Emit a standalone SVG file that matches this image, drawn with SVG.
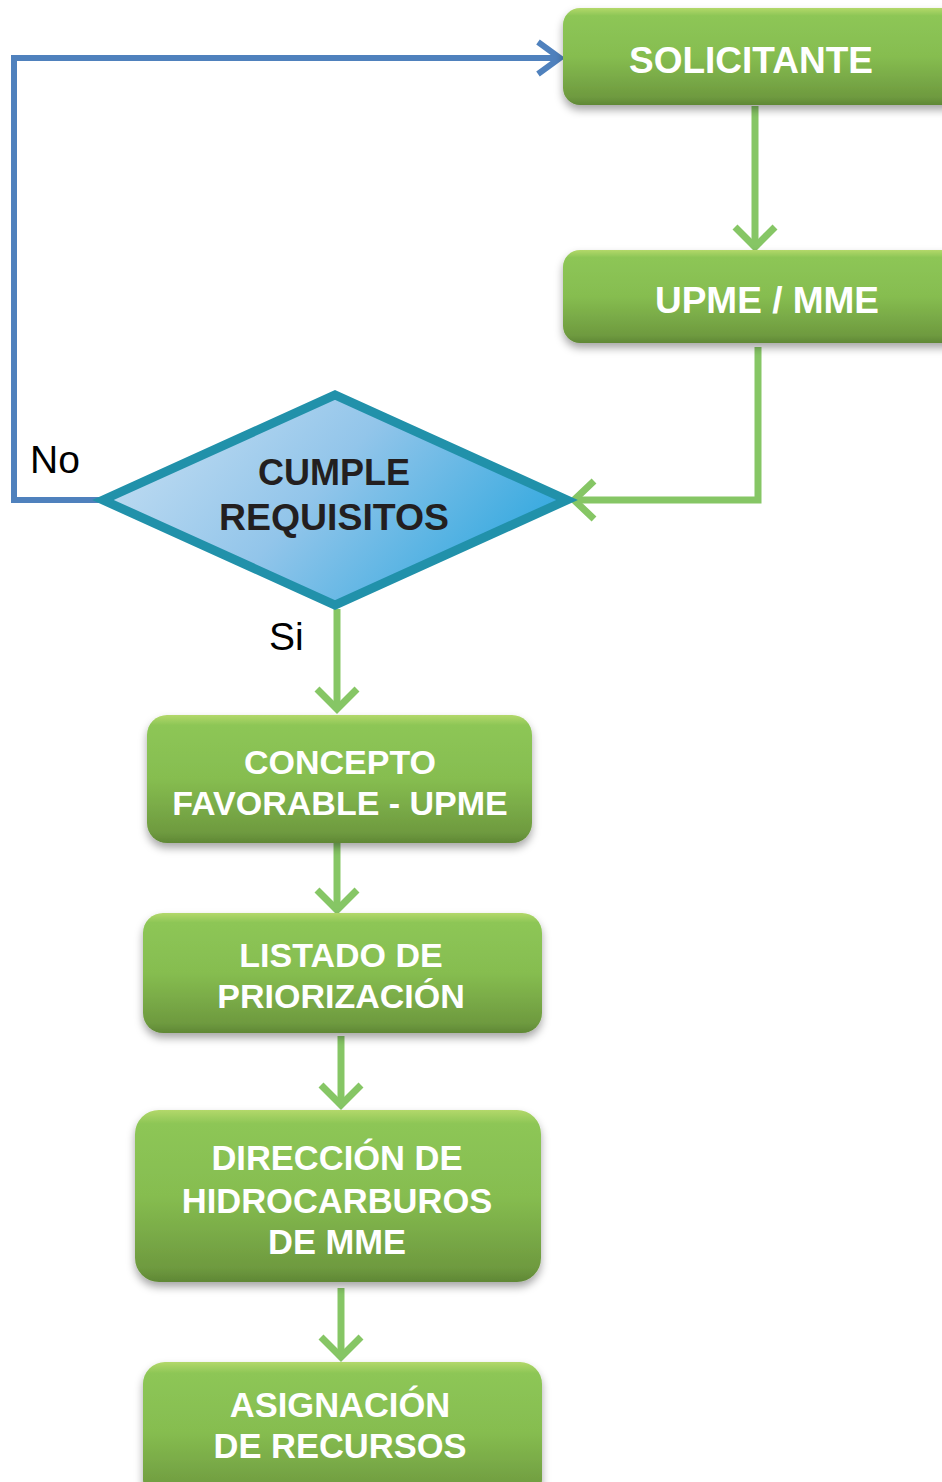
<svg xmlns="http://www.w3.org/2000/svg" width="942" height="1482" viewBox="0 0 942 1482">
<defs>
<linearGradient id="gGreen" x1="0" y1="0" x2="0" y2="1">
<stop offset="0" stop-color="#B3D86A"/>
<stop offset="0.08" stop-color="#8DC656"/>
<stop offset="0.5" stop-color="#86BD50"/>
<stop offset="0.92" stop-color="#6E9A3F"/>
<stop offset="1" stop-color="#5F8735"/>
</linearGradient>
<linearGradient id="gBlue" x1="0" y1="0.3" x2="1" y2="0.7">
<stop offset="0" stop-color="#C2DDF2"/>
<stop offset="0.45" stop-color="#92C5EA"/>
<stop offset="1" stop-color="#2AA6DE"/>
</linearGradient>
<filter id="sh" x="-10%" y="-20%" width="120%" height="150%">
<feDropShadow dx="0" dy="5" stdDeviation="4" flood-color="#000" flood-opacity="0.35"/>
</filter>
<style>
.box{fill:url(#gGreen);filter:url(#sh);}
.bt{font-family:"Liberation Sans",Arial,sans-serif;font-weight:bold;fill:#FFFFFF;text-anchor:middle;}
.dt{font-family:"Liberation Sans",Arial,sans-serif;font-weight:bold;fill:#231F20;text-anchor:middle;font-size:36px;}
.lbl{font-family:"Liberation Sans",Arial,sans-serif;fill:#000;font-size:39px;}
.gc{fill:none;stroke:#86C665;stroke-width:7;}
.bc{fill:none;stroke:#4F81BD;stroke-width:6;stroke-linejoin:miter;}
</style>
</defs>
<rect width="942" height="1482" fill="#FFFFFF"/>

<g id="connectors">
<path class="bc" d="M103,500 H14 V58 H560"/>
<path class="bc" d="M538,42 L560,58 L538,74"/>
<path class="gc" d="M755,106 V247"/>
<path class="gc" d="M735,227 L755,247 L775,227"/>
<path class="gc" d="M758,347 V500 H574"/>
<path class="gc" d="M594,481 L574,500 L594,519"/>
<path class="gc" d="M337,609 V709"/>
<path class="gc" d="M317,689 L337,709 L357,689"/>
<path class="gc" d="M337,843 V910"/>
<path class="gc" d="M317,890 L337,910 L357,890"/>
<path class="gc" d="M341,1036 V1105"/>
<path class="gc" d="M321,1085 L341,1105 L361,1085"/>
<path class="gc" d="M341,1288 V1357"/>
<path class="gc" d="M321,1337 L341,1357 L361,1337"/>
</g>

<g id="labels">
<text class="lbl" x="30" y="473">No</text>
<text class="lbl" x="269" y="650">Si</text>
</g>

<g id="solicitante">
<rect class="box" x="563" y="8" width="400" height="97" rx="17"/>
<text class="bt" x="751" y="73" font-size="37">SOLICITANTE</text>
</g>

<g id="upme-mme">
<rect class="box" x="563" y="250" width="400" height="93" rx="17"/>
<text class="bt" x="767" y="313" font-size="37">UPME / MME</text>
</g>

<g id="cumple-requisitos">
<polygon points="103,500 335,395 567,500 335,605" fill="url(#gBlue)" stroke="#2191AA" stroke-width="9" stroke-linejoin="miter"/>
<text class="dt" x="334" y="485">CUMPLE</text>
<text class="dt" x="334" y="530" textLength="230" lengthAdjust="spacingAndGlyphs">REQUISITOS</text>
</g>

<g id="concepto-favorable">
<rect class="box" x="147" y="715" width="385" height="128" rx="20"/>
<text class="bt" x="340" y="774" font-size="34">CONCEPTO</text>
<text class="bt" x="340" y="815" font-size="34">FAVORABLE - UPME</text>
</g>

<g id="listado-priorizacion">
<rect class="box" x="143" y="913" width="399" height="120" rx="20"/>
<text class="bt" x="341" y="967" font-size="34">LISTADO DE</text>
<text class="bt" x="341" y="1008" font-size="34">PRIORIZACIÓN</text>
</g>

<g id="direccion-hidrocarburos">
<rect class="box" x="135" y="1110" width="406" height="172" rx="24"/>
<text class="bt" x="337" y="1170" font-size="34.5">DIRECCIÓN DE</text>
<text class="bt" x="337" y="1213" font-size="34.5">HIDROCARBUROS</text>
<text class="bt" x="337" y="1254" font-size="34.5">DE MME</text>
</g>

<g id="asignacion-recursos">
<rect class="box" x="143" y="1362" width="399" height="140" rx="22"/>
<text class="bt" x="340" y="1417" font-size="34.5">ASIGNACIÓN</text>
<text class="bt" x="340" y="1458" font-size="34.5">DE RECURSOS</text>
</g>
</svg>
